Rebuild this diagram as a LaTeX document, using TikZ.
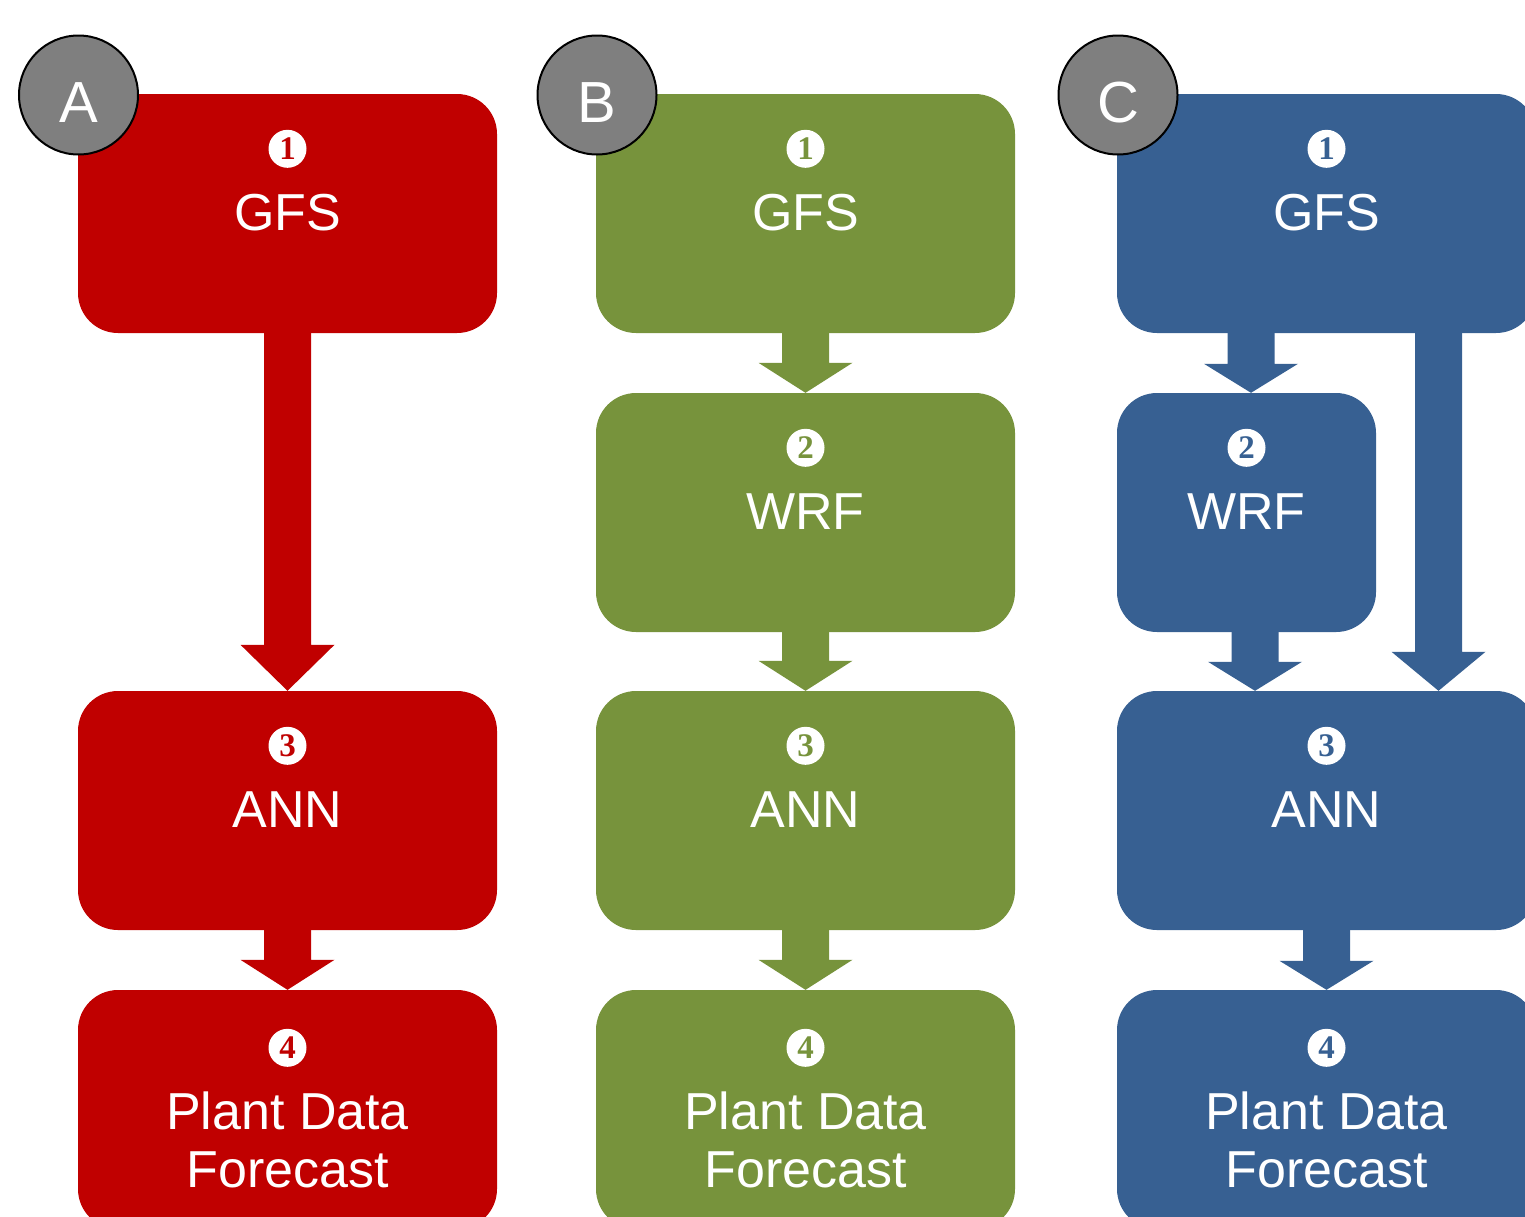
\documentclass[tikz,border=0pt]{standalone}
\usepackage{fontspec}
\setmainfont{Liberation Sans}
\newfontfamily\numfont{Liberation Serif}
\usetikzlibrary{calc}
\definecolor{cred}{HTML}{C00000}
\definecolor{cgreen}{HTML}{77933C}
\definecolor{cblue}{HTML}{376092}
\definecolor{cgray}{HTML}{7F7F7F}
% block arrow: #1 colour, #2 start coordinate, #3 tip coordinate, #4 head length
\newcommand\blockarr[4]{%
  \fill[#1] ($(#2)+(-23.5,-1)$) -- ($(#2)+(23.5,-1)$) -- ($(#3)+(23.5,-#4)$)
    -- ($(#3)+(47,-#4)$) -- (#3) -- ($(#3)+(-47,-#4)$) -- ($(#3)+(-23.5,-#4)$) -- cycle;}
\begin{document}
\begin{tikzpicture}[x=1pt,y=-1pt,
  box/.style={rounded corners=40pt, fill=#1, minimum width=419pt, minimum height=239pt, inner sep=0pt},
  num/.style={circle, fill=white, text=#1, inner sep=0pt, minimum size=38pt,
    font=\numfont\bfseries\fontsize{33}{33}\selectfont},
  lbl/.style={anchor=base, text=white, inner sep=0pt, font=\fontsize{52}{58}\selectfont},
  tag/.style={circle, fill=cgray, draw=black, line width=2pt, minimum size=119pt, inner sep=0pt},
  tagt/.style={anchor=base, text=white, inner sep=0pt, font=\fontsize{58}{58}\selectfont}]
\useasboundingbox (0,0) rectangle (1525,1216);
\clip (0,0) rectangle (1525,1216);

% ---------- boxes ----------
\node[box=cred] (a1) at (287.5,213.5) {};
\node[box=cred] (a3) at (287.5,810.5) {};
\node[box=cred] (a4) at (287.5,1109.5) {};

\node[box=cgreen] (b1) at (805.5,213.5) {};
\node[box=cgreen] (b2) at (805.5,512.5) {};
\node[box=cgreen] (b3) at (805.5,810.5) {};
\node[box=cgreen] (b4) at (805.5,1109.5) {};

\node[box=cblue] (c1) at (1326.5,213.5) {};
\node[box=cblue, minimum width=259pt] (c2) at (1246.5,512.5) {};
\node[box=cblue] (c3) at (1326.5,810.5) {};
\node[box=cblue] (c4) at (1326.5,1109.5) {};

% ---------- arrows ----------
\blockarr{cred}{a1.south}{a3.north}{46}
\blockarr{cred}{a3.south}{a4.north}{30}

\blockarr{cgreen}{b1.south}{b2.north}{30}
\blockarr{cgreen}{b2.south}{b3.north}{30}
\blockarr{cgreen}{b3.south}{b4.north}{30}

\coordinate (c12s) at ($(c2.north |- c1.south)+(4.5,0)$);
\coordinate (c12e) at ($(c2.north)+(4.5,0)$);
\coordinate (c23s) at ($(c2.south)+(8.5,0)$);
\coordinate (c23e) at ($(c2.south |- c3.north)+(8.5,0)$);
\coordinate (c13s) at ($(c1.south)+(112,0)$);
\coordinate (c13e) at ($(c3.north)+(112,0)$);
\blockarr{cblue}{c12s}{c12e}{29}
\blockarr{cblue}{c23s}{c23e}{29}
\blockarr{cblue}{c13s}{c13e}{39}
\blockarr{cblue}{c3.south}{c4.north}{29}

% ---------- numbers and labels ----------
\foreach \b/\c/\n/\t in {a1/cred/1/GFS, a3/cred/3/ANN,
                         b1/cgreen/1/GFS, b2/cgreen/2/WRF, b3/cgreen/3/ANN,
                         c1/cblue/1/GFS, c2/cblue/2/WRF, c3/cblue/3/ANN}{
  \node[num=\c] (\b n) at ($(\b.north)+(0,55)$) {\n};
  \node[lbl] (\b t) at ($(\b.north)+(0,137)$) {\t};
}
\foreach \b/\c in {a4/cred, b4/cgreen, c4/cblue}{
  \node[num=\c] (\b n) at ($(\b.north)+(0,58)$) {4};
  \node[lbl] (\b t) at ($(\b.north)+(0,140)$) {Plant Data};
  \node[lbl] (\b u) at ($(\b.north)+(0,198)$) {Forecast};
}

% ---------- panel tags ----------
\node[tag] (ta) at (78.5,95) {};
\node[tagt] (tal) at (78.5,122) {A};
\node[tag] (tb) at (597,95) {};
\node[tagt] (tbl) at (597,122) {B};
\node[tag] (tc) at (1118,95) {};
\node[tagt] (tcl) at (1118,122) {C};
\end{tikzpicture}
\end{document}
